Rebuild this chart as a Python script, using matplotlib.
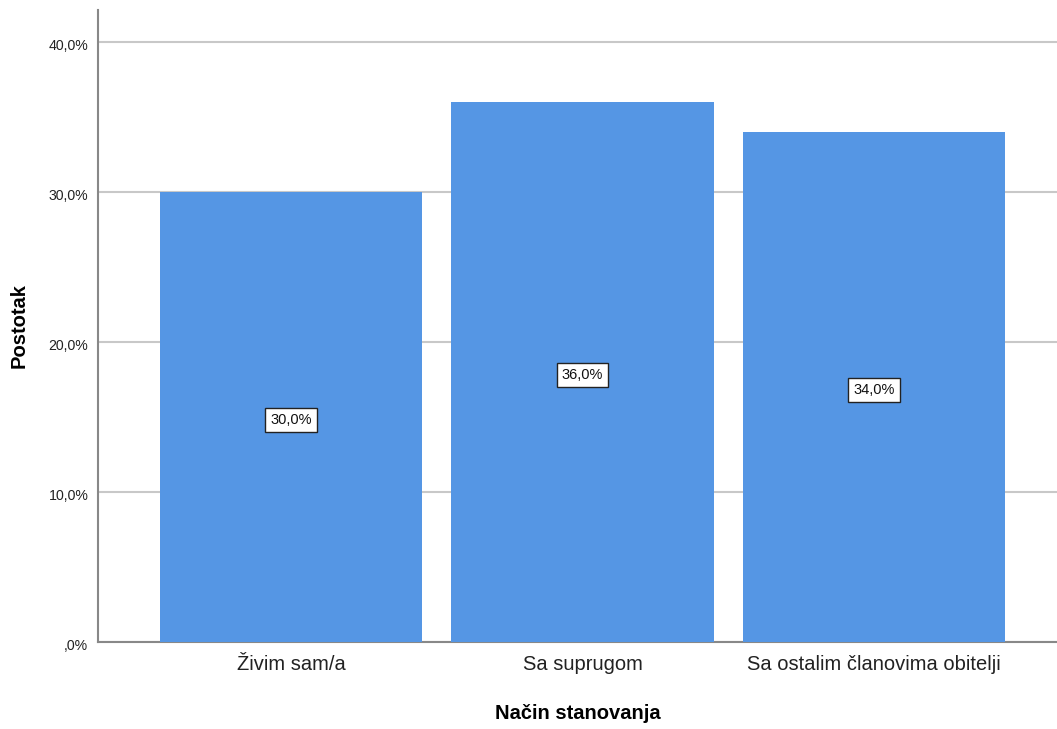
import matplotlib
matplotlib.use("Agg")
import matplotlib.pyplot as plt
from matplotlib.ticker import FuncFormatter
from matplotlib.transforms import ScaledTranslation

categories = ["Živim sam/a", "Sa suprugom", "Sa ostalim članovima obitelji"]
percentages = [30.0, 36.0, 34.0]
y_ticks = [0, 10, 20, 30, 40]

FONT = ["Liberation Sans", "DejaVu Sans"]


def pct_label(v):
    s = f"{v:.1f}".replace(".", ",")
    if s.startswith("0,"):
        s = s[1:]
    return s + "%"


def main():
    fig = plt.figure(figsize=(10.57, 7.29), dpi=100)
    ax = fig.add_axes([98 / 1057, 87 / 729, 1 - 98 / 1057, (642 - 10) / 729])

    x = list(range(len(categories)))
    bars = ax.bar(x, percentages, width=0.9, color="#5596e4", zorder=3)

    # SPSS puts its labels a few pixels lower than centred
    shift = ScaledTranslation(0, -3 / 100, fig.dpi_scale_trans)

    for b, v in zip(bars, percentages):
        ax.text(b.get_x() + b.get_width() / 2, v / 2, pct_label(v),
                ha="center", va="center", fontsize=10.5, family=FONT,
                color="#111111", zorder=4, transform=ax.transData + shift,
                bbox=dict(boxstyle="square,pad=0.35", fc="white",
                          ec="#222222", lw=1.0))

    ax.set_xlim(-0.662, 2.628)
    ax.set_ylim(0, 42.1)
    ax.set_yticks(y_ticks)
    ax.yaxis.set_major_formatter(FuncFormatter(lambda v, p: pct_label(v)))
    ax.set_xticks(x)
    ax.set_xticklabels(categories)

    ax.grid(axis="y", color="#c8c8c8", lw=1.5, zorder=0)
    ax.tick_params(axis="both", length=0)
    ax.tick_params(axis="x", pad=9, labelsize=14.5, colors="#222222")
    ax.tick_params(axis="y", pad=7, labelsize=10.2, colors="#222222")
    for lab in ax.get_xticklabels() + ax.get_yticklabels():
        lab.set_family(FONT)
    for lab in ax.get_yticklabels():
        lab.set_transform(lab.get_transform() + shift)

    for side in ["top", "right"]:
        ax.spines[side].set_visible(False)
    for side in ["left", "bottom"]:
        ax.spines[side].set_color("#888888")
        ax.spines[side].set_linewidth(1.5)

    ax.set_xlabel("Način stanovanja", fontsize=14.5, fontweight="bold",
                  family=FONT, labelpad=22)
    ax.set_ylabel("Postotak", fontsize=14.5, fontweight="bold",
                  family=FONT, labelpad=14)

    fig.savefig("out.png", dpi=100)
    plt.close(fig)


if __name__ == "__main__":
    main()
